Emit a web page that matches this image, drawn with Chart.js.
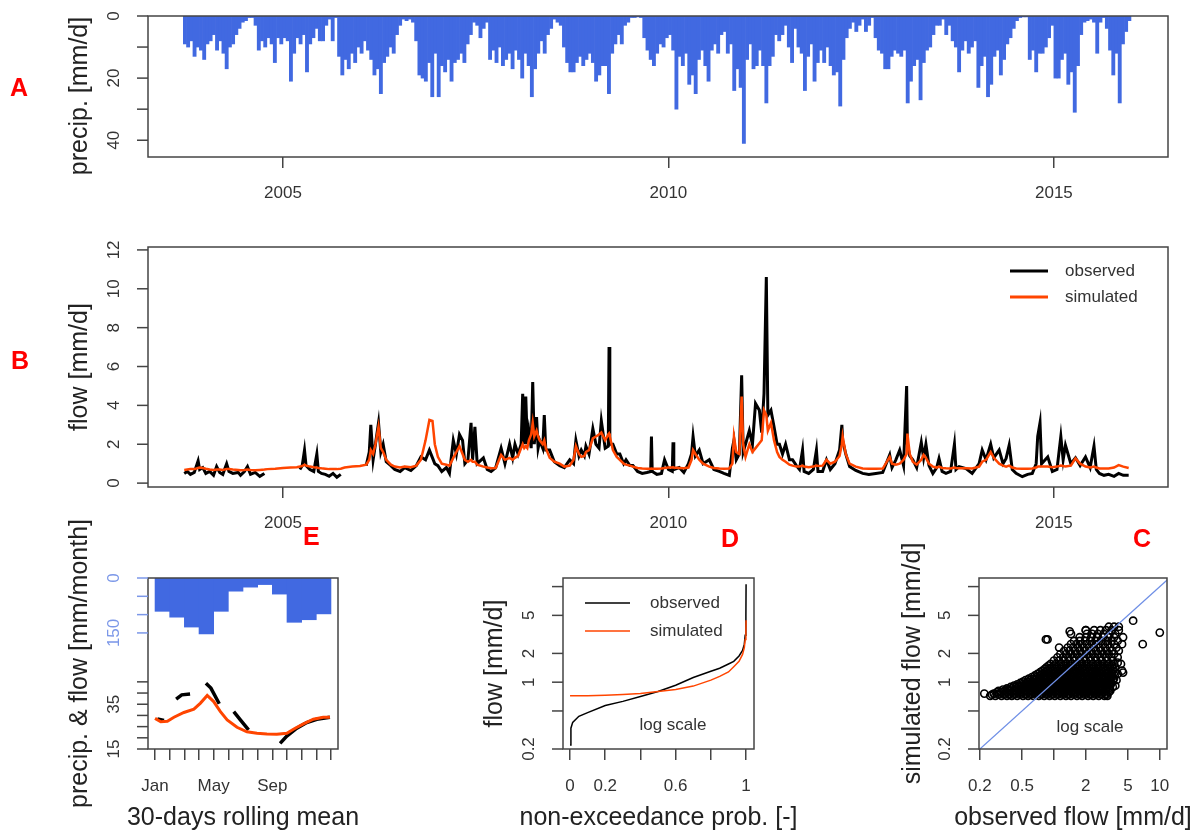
<!DOCTYPE html>
<html>
<head>
<meta charset="utf-8">
<script src="https://cdn.jsdelivr.net/npm/chart.js@4.4.1/dist/chart.umd.min.js"></script>
<style>
  body { margin: 0; background: #fff; }
  #wrap { position: relative; width: 1200px; height: 832px; overflow: hidden; background: #fff; }
  #wrap canvas { position: absolute; }
  .tag { position: absolute; color: #ff0000; font: bold 25px "Liberation Sans", Arial, sans-serif; line-height: 25px; }
</style>
</head>
<body>
<div id="wrap">
  <canvas id="precipChart" width="1200" height="210" style="left:0;top:0"></canvas>
  <canvas id="flowChart" width="1200" height="330" style="left:0;top:210px"></canvas>
  <canvas id="regimeChart" width="380" height="327" style="left:0;top:505px"></canvas>
  <canvas id="fdcChart" width="440" height="327" style="left:380px;top:505px"></canvas>
  <canvas id="scatterChart" width="420" height="327" style="left:780px;top:505px"></canvas>
  <div class="tag" style="left:10px;top:75px">A</div>
  <div class="tag" style="left:11px;top:348px">B</div>
  <div class="tag" style="left:303px;top:524px">E</div>
  <div class="tag" style="left:721px;top:526px">D</div>
  <div class="tag" style="left:1133px;top:526px">C</div>
</div>
<script>
// ---- A: precipitation, half-month blocks from 2nd half of Sep 2003 to Dec 2015 ----
const precipStart = 2003.708;
const precip = [
  9, 10, 8, 13, 10, 11, 14,
  9, 8, 6, 11, 8, 12, 17, 10, 9, 6, 4, 2, 1.5, 0.5, 0.5, 3, 11, 8, 10, 7, 9, 15, 7, 9,
  7, 8, 21, 12, 7, 9, 6, 18, 9, 7, 4, 8, 8, 3, 1, 8, 0.5, 13, 19, 14, 17, 12, 15, 10,
  12, 8, 11, 14, 19, 17, 25, 15, 13, 10, 12, 6, 3, 1, 1.5, 1, 2, 8, 19, 20, 21, 15, 26, 12,
  26, 16, 18, 14, 21, 15, 14, 12, 15, 9, 6, 2, 3, 7, 4, 2, 14, 11, 15, 10, 16, 14, 12, 17,
  11, 14, 20, 12, 16, 26, 17, 12, 8, 12, 6, 4, 1, 2, 3, 10, 15, 18, 18, 15, 13, 16, 14, 12,
  15, 21, 19, 16, 16, 25, 12, 9, 6, 9, 3, 2, 0.5, 0.5, 0.3, 0.5, 7, 11, 14, 16, 12, 9, 10, 7,
  6, 11, 30, 13, 16, 12, 22, 19, 25, 14, 11, 16, 21, 11, 9, 12, 6, 5, 12, 9, 24, 17, 23, 41,
  14, 9, 17, 16, 11, 16, 28, 16, 13, 6, 8, 6, 3, 10, 15, 4, 10, 12, 24, 13, 9, 21, 15, 11,
  15, 10, 16, 19, 18, 29, 14, 7, 4, 2, 5, 3, 1, 5, 3, 0.5, 7, 11, 12, 17, 17, 13, 11, 12,
  13, 11, 28, 21, 16, 14, 27, 15, 11, 10, 6, 3, 3, 1, 6, 3, 8, 10, 18, 11, 8, 12, 10, 8,
  23, 16, 13, 26, 22, 13, 11, 19, 14, 9, 7, 4, 1.5, 0.5, 0.3, 0.3, 14, 11, 18, 12, 12, 10, 7, 3,
  20, 20, 14, 12, 22, 18, 31, 16, 6, 2, 1.5, 1, 2, 12, 2, 0.5, 4, 11, 19, 12, 28, 9, 5, 1.5
];
const yearTicks = [2005, 2010, 2015];

// ---- B: daily flow (selected days) ----
const flowDates = [
  2003.72, 2003.76, 2003.80, 2003.85, 2003.90, 2003.92, 2003.96,
  2004.00, 2004.05, 2004.10, 2004.14, 2004.18, 2004.22, 2004.27, 2004.30, 2004.35, 2004.42, 2004.45, 2004.50, 2004.54, 2004.58, 2004.64, 2004.70, 2004.76, 2004.80, 2004.90,
  2005.00, 2005.10, 2005.18, 2005.22, 2005.25, 2005.28, 2005.30, 2005.35, 2005.40, 2005.44, 2005.46, 2005.50, 2005.55, 2005.60, 2005.65, 2005.70, 2005.75, 2005.80, 2005.90,
  2006.00, 2006.08, 2006.12, 2006.14, 2006.17, 2006.20, 2006.24, 2006.27, 2006.30, 2006.34, 2006.40, 2006.45, 2006.52, 2006.58, 2006.66, 2006.73, 2006.79, 2006.85, 2006.90, 2006.94, 2006.97,
  2007.01, 2007.06, 2007.12, 2007.16, 2007.21, 2007.25, 2007.29, 2007.33, 2007.36, 2007.40, 2007.44, 2007.46, 2007.49, 2007.52, 2007.60, 2007.65, 2007.70, 2007.76, 2007.83, 2007.88, 2007.94, 2007.98,
  2008.01, 2008.05, 2008.09, 2008.11, 2008.13, 2008.15, 2008.17, 2008.19, 2008.22, 2008.24, 2008.26, 2008.29, 2008.31, 2008.33, 2008.37, 2008.39, 2008.41, 2008.46, 2008.52, 2008.59, 2008.65, 2008.72, 2008.77, 2008.80, 2008.84, 2008.87, 2008.91, 2008.93, 2008.97,
  2009.02, 2009.06, 2009.10, 2009.13, 2009.18, 2009.22, 2009.23, 2009.24, 2009.28, 2009.33, 2009.37, 2009.42, 2009.45, 2009.50, 2009.54, 2009.60, 2009.66, 2009.72, 2009.77, 2009.78, 2009.79, 2009.85, 2009.91, 2009.95,
  2010.00, 2010.05, 2010.06, 2010.07, 2010.14, 2010.20, 2010.26, 2010.30, 2010.32, 2010.35, 2010.40, 2010.45, 2010.53, 2010.59, 2010.66, 2010.72, 2010.79, 2010.83, 2010.85, 2010.88, 2010.92, 2010.95, 2010.97,
  2011.00, 2011.05, 2011.09, 2011.13, 2011.18, 2011.21, 2011.24, 2011.27, 2011.29, 2011.33, 2011.37, 2011.41, 2011.44, 2011.48, 2011.52, 2011.57, 2011.61, 2011.66, 2011.70, 2011.74, 2011.76, 2011.82, 2011.88, 2011.92, 2011.94,
  2012.00, 2012.05, 2012.10, 2012.16, 2012.22, 2012.25, 2012.26, 2012.30, 2012.35, 2012.43, 2012.52, 2012.60, 2012.69, 2012.78, 2012.87, 2012.90, 2012.95,
  2013.00, 2013.05, 2013.09, 2013.10, 2013.13, 2013.17, 2013.22, 2013.28, 2013.31, 2013.34, 2013.38, 2013.43, 2013.48, 2013.51, 2013.55, 2013.60, 2013.66, 2013.71, 2013.73, 2013.77, 2013.86, 2013.94,
  2014.03, 2014.07, 2014.12, 2014.18, 2014.22, 2014.29, 2014.34, 2014.38, 2014.42, 2014.46, 2014.51, 2014.59, 2014.66, 2014.72, 2014.77, 2014.79, 2014.82, 2014.84, 2014.92, 2014.98,
  2015.04, 2015.09, 2015.12, 2015.15, 2015.22, 2015.28, 2015.34, 2015.41, 2015.47, 2015.52, 2015.55, 2015.59, 2015.65, 2015.71, 2015.78, 2015.84, 2015.90, 2015.97
];
const observed = [
  0.5, 0.6, 0.45, 0.55, 1.15, 0.7, 0.8,
  0.5, 0.6, 0.4, 0.85, 0.55, 0.45, 1.0, 0.6, 0.5, 0.55, 0.4, 0.6, 0.85, 0.45, 0.55, 0.35, 0.5, null, null,
  null, null, null, 0.7, 0.9, 1.7, 0.9, 0.7, 0.6, 1.5, 0.6, 0.5, 0.45, 0.35, 0.5, 0.3, 0.45, null, null,
  null, 0.9, 1.6, 3.0, 1.2, 2.0, 3.1, 1.6, 2.0, 1.1, 0.9, 0.7, 0.6, 0.8, 0.65, 0.9, 1.35, 1.2, 1.7, 1.3, 1.0,
  0.9, 0.6, 0.8, 0.5, 2.2, 1.5, 2.5, 2.2, 1.0, 1.2, 3.1, 1.2, 2.9, 1.0, 1.3, 0.7, 0.6, 0.8, 1.8, 1.0, 2.0, 1.3,
  2.0, 1.5, 2.0, 4.6, 2.0, 4.45, 2.0, 2.7, 1.8, 5.2, 2.0, 3.4, 1.8, 2.2, 1.8, 3.5, 1.7, 1.7, 1.1, 0.9, 0.8, 1.2, 1.0, 2.2, 1.4, 1.7, 1.4, 1.9, 1.5,
  2.8, 2.0, 1.8, 3.2, 1.8, 1.9, 7.0, 2.0, 2.0, 1.5, 1.5, 1.0, 1.2, 0.9, 0.9, 0.6, 0.5, 0.55, 0.6, 2.4, 0.6, 0.45, 0.5, 1.2,
  0.7, 0.6, 2.1, 0.7, 0.8, 0.55, 1.0, 1.5, 2.4, 1.4, 1.7, 1.0, 1.2, 0.7, 0.6, 0.5, 0.4, 1.8, 2.2, 1.2, 1.5, 5.55, 1.6,
  2.0, 2.7, 2.0, 4.1, 3.75, 2.6, 4.6, 10.6, 3.5, 3.75, 2.9, 2.0, 2.0, 1.5, 2.0, 1.2, 1.2, 0.9, 0.7, 1.7, 0.6, 0.5, 0.7, 1.7, 0.6,
  0.6, 1.2, 0.7, 1.0, 1.7, 3.0, 2.2, 1.5, 0.85, 0.65, 0.5, 0.45, 0.5, 0.55, 1.45, 0.8, 1.2,
  1.7, 0.9, 5.0, 2.0, 1.4, 1.2, 0.8, 2.1, 1.3, 2.0, 0.9, 0.5, 0.8, 1.27, 0.6, 0.5, 0.6, 2.0, 0.7, 0.85, 0.75, 0.5,
  1.0, 1.7, 1.2, 2.0, 1.3, 1.7, 1.0, 1.27, 1.95, 0.7, 0.5, 0.33, 0.45, 0.5, 1.0, 2.4, 3.1, 1.0, 1.35, 0.6,
  0.7, 2.4, 1.2, 1.95, 1.0, 1.3, 0.9, 1.35, 0.8, 1.9, 0.7, 0.5, 0.4, 0.45, 0.35, 0.5, 0.4, 0.4
];
const simulated = [
  0.68, 0.70, 0.72, 0.72, 0.78, 0.80, 0.78,
  0.74, 0.70, 0.68, 0.70, 0.70, 0.68, 0.72, 0.72, 0.70, 0.68, 0.66, 0.68, 0.70, 0.68, 0.66, 0.68, 0.70, 0.72, 0.74,
  0.78, 0.80, 0.82, 0.85, 0.88, 0.95, 0.90, 0.85, 0.82, 0.80, 0.78, 0.76, 0.74, 0.72, 0.72, 0.72, 0.74, 0.80, 0.85,
  0.88, 0.95, 1.2, 1.7, 1.5, 2.0, 2.9, 1.8, 1.6, 1.2, 0.95, 0.85, 0.8, 0.85, 0.82, 0.9, 1.2, 2.2, 3.25, 3.2, 2.0,
  1.35, 1.0, 0.95, 0.9, 1.3, 1.6, 1.9, 1.5, 1.2, 1.1, 1.2, 1.1, 1.1, 0.95, 0.85, 0.8, 0.76, 0.78, 1.45, 1.2, 1.3, 1.2,
  1.3, 1.4, 1.8, 2.0, 1.8, 1.9, 1.8, 2.2, 2.5, 3.1, 2.4, 2.7, 2.4, 2.2, 2.0, 2.2, 1.8, 1.3, 1.1, 1.0, 0.85, 0.9, 1.2, 1.9, 1.5, 1.35, 1.4, 1.6, 1.7,
  2.3, 2.4, 2.5, 2.6, 2.2, 2.5, 2.55, 2.4, 1.7, 1.35, 1.2, 1.0, 0.95, 0.9, 0.85, 0.78, 0.75, 0.74, 0.74, 0.75, 0.74, 0.74, 0.75, 0.78,
  0.8, 0.8, 0.82, 0.8, 0.78, 0.76, 0.8, 1.2, 1.7, 1.5, 1.2, 1.0, 0.85, 0.78, 0.75, 0.74, 0.75, 1.0, 2.4, 1.6, 1.5, 4.45, 2.0,
  1.35, 2.0, 1.6, 1.8, 2.05, 2.2, 3.75, 3.5, 2.7, 3.1, 2.2, 1.6, 1.35, 1.2, 1.1, 0.95, 0.9, 0.85, 0.85, 0.9, 0.85, 0.82, 0.85, 0.9, 0.88,
  0.9, 1.2, 1.0, 1.1, 1.4, 2.0, 2.4, 1.5, 1.0, 0.85, 0.75, 0.74, 0.74, 0.75, 1.35, 1.0, 0.95,
  1.0, 1.2, 1.5, 2.55, 1.5, 1.1, 0.95, 1.2, 1.45, 1.3, 1.0, 0.85, 0.8, 0.85, 0.78, 0.76, 0.75, 0.8, 0.78, 0.76, 0.76, 0.75,
  0.85, 1.1, 1.2, 1.6, 1.3, 1.0, 0.9, 0.85, 0.9, 0.8, 0.75, 0.74, 0.74, 0.75, 0.8, 0.85, 0.85, 0.85, 0.85, 0.82,
  0.85, 0.9, 0.88, 0.85, 0.9, 1.27, 1.0, 0.85, 0.8, 0.85, 0.8, 0.75, 0.75, 0.75, 0.8, 0.93, 0.85, 0.78
];
const seriesNames = ['observed', 'simulated'];
const seriesColors = ['#000000', '#ff4500'];

// ---- E: regime (30-day rolling mean), x = months since 1 Jan ----
const monthTicks = [0, 1, 2, 3, 4, 5, 6, 7, 8, 9, 10, 11, 12];
const monthLabels = ['Jan', '', '', '', 'May', '', '', '', 'Sep', '', '', '', ''];
const monthlyPrecip = [91, 107, 134, 153, 91, 36, 25, 18, 44, 121, 114, 98];
const regimeSimX = [0.0, 0.39, 0.84, 1.29, 1.97, 2.65, 3.1, 3.56, 4.0, 4.46, 4.92, 5.59, 6.27, 6.95, 7.63, 8.31, 8.99, 9.44, 10.12, 10.8, 11.47, 11.93];
const regimeSim = [28.7, 27.2, 27.4, 29.2, 31.3, 32.8, 35.5, 38.9, 36.2, 31.7, 28.0, 24.7, 22.7, 22.0, 21.7, 21.6, 22.0, 23.8, 26.2, 28.3, 29.2, 29.2];
const regimeObsX = [0.16, 0.61, 1.0, 1.44, 1.82, 2.39, 2.9, 3.47, 3.81, 4.38, 4.9, 5.37, 5.82, 6.38, 7.5, 8.53, 8.99, 9.67, 10.35, 11.03, 11.93];
const regimeObs = [28.4, 27.7, null, 37.3, 39.2, 39.6, null, 44.4, 42.2, 35.2, null, 31.7, 28.0, 23.5, null, 17.5, 20.8, 24.3, 26.8, 28.3, 29.2];

// ---- D: flow duration curve ----
const fdcProb = [0, 0.005, 0.015, 0.05, 0.1, 0.2, 0.3, 0.4, 0.5, 0.6, 0.7, 0.8, 0.85, 0.9, 0.93, 0.96, 0.98, 0.99, 0.995, 0.999, 1.0];
const fdcObs = [0.22, 0.33, 0.38, 0.44, 0.48, 0.57, 0.63, 0.71, 0.80, 0.93, 1.12, 1.30, 1.40, 1.55, 1.65, 1.88, 2.15, 2.5, 3.1, 4.9, 10.6];
const fdcSim = [0.72, 0.72, 0.72, 0.72, 0.72, 0.73, 0.745, 0.76, 0.80, 0.84, 0.91, 1.05, 1.15, 1.28, 1.45, 1.65, 1.95, 2.3, 2.8, 3.6, 4.45];

// ---- C: simulated vs observed, one row of observed values per simulated level ----
const scatterSimRows = [0.72, 0.74, 0.76, 0.785, 0.81, 0.835, 0.86, 0.89, 0.92, 0.95, 0.98, 1.015, 1.05, 1.09, 1.13, 1.175, 1.22, 1.27, 1.32, 1.375, 1.43, 1.49, 1.55, 1.68, 1.82, 1.97, 2.13, 2.3, 2.5, 2.7, 2.95, 3.2, 3.5, 3.8];
const scatterObsRows = [
  [0.25, 0.28, 0.32, 0.36, 0.40, 0.45, 0.51, 0.57, 0.64, 0.72, 0.81, 0.91, 1.02, 1.15, 1.3, 1.45, 1.65, 1.85, 2.1, 2.35, 2.65, 3.0, 3.2],
  [0.26, 0.30, 0.34, 0.38, 0.42, 0.48, 0.54, 0.60, 0.68, 0.76, 0.86, 0.96, 1.08, 1.22, 1.37, 1.55, 1.75, 1.97, 2.22, 2.5, 2.82, 3.15],
  [0.22, 0.27, 0.30, 0.34, 0.38, 0.43, 0.48, 0.54, 0.61, 0.68, 0.77, 0.86, 0.97, 1.09, 1.22, 1.38, 1.55, 1.75, 1.97, 2.2, 2.5, 2.8, 3.1],
  [0.29, 0.32, 0.36, 0.40, 0.45, 0.51, 0.57, 0.64, 0.72, 0.81, 0.91, 1.02, 1.15, 1.29, 1.45, 1.63, 1.83, 2.06, 2.32, 2.62, 2.95, 3.3],
  [0.30, 0.34, 0.38, 0.42, 0.47, 0.53, 0.60, 0.67, 0.75, 0.84, 0.95, 1.07, 1.2, 1.35, 1.52, 1.7, 1.92, 2.15, 2.42, 2.75, 3.1, 3.4],
  [0.33, 0.37, 0.42, 0.47, 0.53, 0.59, 0.66, 0.74, 0.83, 0.93, 1.05, 1.18, 1.32, 1.48, 1.66, 1.86, 2.1, 2.36, 2.65, 3.0, 3.35],
  [0.36, 0.40, 0.45, 0.50, 0.56, 0.63, 0.71, 0.80, 0.90, 1.01, 1.13, 1.27, 1.43, 1.6, 1.8, 2.03, 2.3, 2.6, 2.9, 3.3],
  [0.39, 0.44, 0.49, 0.55, 0.62, 0.70, 0.78, 0.88, 0.99, 1.11, 1.25, 1.4, 1.57, 1.77, 1.99, 2.24, 2.52, 2.84, 3.2, 3.6],
  [0.42, 0.47, 0.53, 0.59, 0.66, 0.74, 0.83, 0.93, 1.05, 1.18, 1.32, 1.48, 1.67, 1.88, 2.1, 2.38, 2.68, 3.0, 3.4, 3.8],
  [0.45, 0.50, 0.57, 0.64, 0.72, 0.81, 0.91, 1.02, 1.15, 1.29, 1.45, 1.63, 1.83, 2.06, 2.32, 2.6, 2.92, 3.3],
  [0.48, 0.54, 0.61, 0.68, 0.77, 0.86, 0.97, 1.09, 1.22, 1.37, 1.54, 1.73, 1.95, 2.2, 2.45, 2.75, 3.1, 3.5],
  [0.51, 0.57, 0.64, 0.72, 0.81, 0.91, 1.02, 1.15, 1.29, 1.45, 1.62, 1.82, 2.05, 2.3, 2.58, 2.9, 3.25],
  [0.54, 0.60, 0.67, 0.75, 0.85, 0.95, 1.07, 1.2, 1.35, 1.52, 1.7, 1.92, 2.15, 2.42, 2.7, 3.05, 3.4, 3.9],
  [0.58, 0.65, 0.73, 0.82, 0.92, 1.03, 1.16, 1.3, 1.46, 1.64, 1.84, 2.07, 2.32, 2.6, 2.92, 3.3, 3.7],
  [0.62, 0.69, 0.78, 0.87, 0.98, 1.1, 1.23, 1.38, 1.55, 1.75, 1.96, 2.2, 2.47, 2.78, 3.1, 3.5],
  [0.66, 0.74, 0.83, 0.93, 1.05, 1.18, 1.32, 1.48, 1.66, 1.86, 2.09, 2.35, 2.64, 2.96, 3.32, 3.75],
  [0.70, 0.78, 0.88, 0.99, 1.11, 1.25, 1.4, 1.57, 1.77, 1.98, 2.22, 2.5, 2.8, 3.15, 3.55, 4.0],
  [0.74, 0.83, 0.93, 1.04, 1.17, 1.31, 1.47, 1.65, 1.86, 2.09, 2.34, 2.63, 2.95, 3.32, 3.75],
  [0.78, 0.87, 0.98, 1.1, 1.23, 1.38, 1.55, 1.74, 1.95, 2.2, 2.46, 2.76, 3.1, 3.5, 4.4],
  [0.82, 0.92, 1.03, 1.15, 1.29, 1.45, 1.63, 1.83, 2.05, 2.3, 2.58, 2.9, 3.25, 3.65],
  [0.85, 0.95, 1.07, 1.2, 1.35, 1.51, 1.7, 1.9, 2.14, 2.4, 2.7, 3.0, 3.4, 3.8],
  [0.89, 1.0, 1.12, 1.25, 1.41, 1.58, 1.77, 1.99, 2.23, 2.5, 2.8, 3.15, 3.55],
  [0.93, 1.04, 1.17, 1.31, 1.47, 1.65, 1.85, 2.08, 2.33, 2.62, 2.95, 3.3, 3.7, 4.3],
  [1.0, 1.12, 1.26, 1.41, 1.58, 1.78, 2.0, 2.24, 2.52, 2.83, 3.2, 3.6],
  [1.08, 1.22, 1.37, 1.54, 1.73, 1.94, 2.18, 2.45, 2.75, 3.1, 3.5, 4.0],
  [1.15, 1.3, 1.46, 1.64, 1.84, 2.07, 2.32, 2.6, 2.95, 3.3, 3.7],
  [1.25, 1.4, 1.58, 1.77, 1.99, 2.24, 2.5, 2.8, 3.15, 3.55, 4.1],
  [1.12, 1.35, 1.52, 1.7, 1.91, 2.15, 2.4, 2.7, 3.05, 3.4, 3.9],
  [1.45, 1.63, 1.83, 2.05, 2.3, 2.6, 2.9, 3.25, 3.7, 4.4],
  [1.55, 1.75, 1.97, 2.2, 2.47, 2.78, 3.1, 3.5, 4.0],
  [1.75, 2.0, 2.25, 2.55, 2.9, 3.25, 3.7, 4.5],
  [1.45, 2.05, 2.3, 2.6, 2.95, 3.35, 3.8],
  [2.0, 2.4, 2.75, 3.1, 3.5, 4.1],
  [3.3, 3.7, 4.1]
];
const scatterExtraObs = [0.84, 0.87, 1.41, 2.0, 4.5, 5.6, 6.9, 10.0, 4.0, 3.6];
const scatterExtraSim = [2.8, 2.8, 3.4, 3.5, 1.26, 4.4, 2.5, 3.3, 1.6, 1.05];
const oneToOne = [0.2, 12];
const logTicks = [0.2, 0.5, 1, 2, 5, 10];

// ------------------------------------------------------------------
const FONT = '"Liberation Sans", Arial, Helvetica, sans-serif';
Chart.defaults.font.family = FONT;
Chart.defaults.font.size = 17;
Chart.defaults.color = '#333';
Chart.defaults.animation = false;
Chart.defaults.responsive = false;
Chart.defaults.plugins.legend.display = false;
Chart.defaults.plugins.tooltip.enabled = false;

// box, rotated y ticks, axis titles, legend and notes drawn the way R does them
const rFrame = {
  id: 'rFrame',
  afterDatasetsDraw(chart, args, o) {
    const ctx = chart.ctx;
    const a = chart.chartArea;
    ctx.save();
    ctx.lineWidth = 1.5;
    ctx.strokeStyle = '#444';
    ctx.strokeRect(a.left, a.top, a.right - a.left, a.bottom - a.top);

    ctx.textAlign = 'center';
    ctx.textBaseline = 'middle';
    (o.yAxes || []).forEach(ax => {
      const scale = chart.scales[ax.id];
      ctx.strokeStyle = ax.color || '#444';
      ctx.fillStyle = ax.color || '#333';
      ctx.lineWidth = 1.5;
      ax.ticks.forEach(v => {
        const y = scale.getPixelForValue(v);
        ctx.beginPath();
        ctx.moveTo(a.left - 11, y);
        ctx.lineTo(a.left, y);
        ctx.stroke();
      });
      ctx.font = '17px ' + FONT;
      ax.labels.forEach(v => {
        ctx.save();
        ctx.translate(a.left - 34, scale.getPixelForValue(v));
        ctx.rotate(-Math.PI / 2);
        ctx.fillText(String(v), 0, 0);
        ctx.restore();
      });
    });

    ctx.fillStyle = '#222';
    ctx.font = '25px ' + FONT;
    if (o.yTitle) {
      ctx.save();
      ctx.translate(o.yTitle.x, o.yTitle.y != null ? o.yTitle.y : (a.top + a.bottom) / 2);
      ctx.rotate(-Math.PI / 2);
      ctx.fillText(o.yTitle.text, 0, 0);
      ctx.restore();
    }
    if (o.xTitle) {
      ctx.fillText(o.xTitle.text, (a.left + a.right) / 2, o.xTitle.y);
    }

    if (o.legend) {
      const L = o.legend;
      ctx.font = '17px ' + FONT;
      ctx.textAlign = 'left';
      seriesNames.forEach((name, i) => {
        const y = L.y + i * L.dy;
        ctx.strokeStyle = seriesColors[i];
        ctx.lineWidth = L.lineWidth;
        ctx.beginPath();
        ctx.moveTo(L.x, y);
        ctx.lineTo(L.x + L.len, y);
        ctx.stroke();
        ctx.fillStyle = '#333';
        ctx.fillText(name, L.textX, y);
      });
    }

    (o.notes || []).forEach(n => {
      ctx.font = '17px ' + FONT;
      ctx.textAlign = 'center';
      ctx.fillStyle = '#333';
      ctx.fillText(n.text, n.x, n.y);
    });
    ctx.restore();
  }
};

function rX(cfg) {
  return {
    type: cfg.type || 'linear',
    min: cfg.min,
    max: cfg.max,
    offset: false,
    border: { display: false },
    grid: { drawOnChartArea: false, drawTicks: true, tickLength: 11, color: '#444', lineWidth: 1.5, offset: false },
    ticks: {
      autoSkip: false, maxRotation: 0, minRotation: 0, padding: cfg.pad, color: '#333',
      callback: (v, i) => cfg.labels[i]
    },
    afterBuildTicks: s => { s.ticks = cfg.ticks.map(v => ({ value: v })); },
    afterFit: s => { s.height = cfg.height; }
  };
}

const xy = (xs, ys) => xs.map((x, i) => ({ x: x, y: ys[i] }));

// A
new Chart(document.getElementById('precipChart'), {
  type: 'bar',
  data: {
    datasets: [{
      data: precip.map((v, i) => ({ x: precipStart + (i + 0.5) / 24, y: v })),
      backgroundColor: '#4169e1',
      borderWidth: 0,
      barPercentage: 1,
      categoryPercentage: 1
    }]
  },
  options: {
    layout: { padding: { left: 148, right: 32, top: 16, bottom: 0 } },
    scales: {
      x: rX({ min: 2003.25, max: 2016.48, ticks: yearTicks, labels: yearTicks.map(String), height: 53, pad: 15 }),
      y: { type: 'linear', min: 0, max: 45.4, reverse: true, display: false }
    },
    plugins: {
      rFrame: {
        yAxes: [{ id: 'y', ticks: [0, 10, 20, 30, 40], labels: [0, 20, 40] }],
        yTitle: { text: 'precip. [mm/d]', x: 80, y: 96 }
      }
    }
  },
  plugins: [rFrame]
});

// B
new Chart(document.getElementById('flowChart'), {
  type: 'line',
  data: {
    datasets: [
      { label: seriesNames[1], data: xy(flowDates, simulated), borderColor: seriesColors[1], borderWidth: 2.5, pointRadius: 0, order: 0 },
      { label: seriesNames[0], data: xy(flowDates, observed), borderColor: seriesColors[0], borderWidth: 3, pointRadius: 0, order: 1 }
    ]
  },
  options: {
    layout: { padding: { left: 148, right: 32, top: 37, bottom: 0 } },
    elements: { line: { tension: 0 } },
    spanGaps: false,
    scales: {
      x: rX({ min: 2003.25, max: 2016.48, ticks: yearTicks, labels: yearTicks.map(String), height: 53, pad: 15 }),
      y: { type: 'linear', min: -0.2, max: 12.15, display: false }
    },
    plugins: {
      rFrame: {
        yAxes: [{ id: 'y', ticks: [0, 2, 4, 6, 8, 10, 12], labels: [0, 2, 4, 6, 8, 10, 12] }],
        yTitle: { text: 'flow [mm/d]', x: 80 },
        legend: { x: 1010, len: 38, textX: 1065, y: 61, dy: 26, lineWidth: 3 }
      }
    }
  },
  plugins: [rFrame]
});

// E
new Chart(document.getElementById('regimeChart'), {
  type: 'line',
  data: {
    datasets: [
      { data: xy(regimeSimX, regimeSim), borderColor: seriesColors[1], borderWidth: 3, pointRadius: 0, yAxisID: 'y', order: 0 },
      { data: xy(regimeObsX, regimeObs), borderColor: seriesColors[0], borderWidth: 3.5, pointRadius: 0, yAxisID: 'y', order: 1 },
      {
        type: 'bar',
        data: monthlyPrecip.map((v, i) => ({ x: i + 0.5, y: v })),
        backgroundColor: '#4169e1', borderWidth: 0, barPercentage: 1, categoryPercentage: 1,
        yAxisID: 'yP', order: 2
      }
    ]
  },
  options: {
    layout: { padding: { left: 148, right: 42, top: 73, bottom: 0 } },
    elements: { line: { tension: 0 } },
    spanGaps: false,
    scales: {
      x: rX({ min: -0.48, max: 12.48, ticks: monthTicks, labels: monthLabels, height: 83, pad: 16 }),
      y: { type: 'linear', min: 15, max: 91.4, display: false },
      yP: { type: 'linear', min: 0, max: 467, reverse: true, display: false }
    },
    plugins: {
      rFrame: {
        yAxes: [
          { id: 'yP', ticks: [0, 50, 100, 150], labels: [0, 150], color: '#7b97e8' },
          { id: 'y', ticks: [15, 20, 25, 30, 35, 40, 45], labels: [15, 35] }
        ],
        yTitle: { text: 'precip. & flow [mm/month]', x: 80 },
        xTitle: { text: '30-days rolling mean', y: 313 }
      }
    }
  },
  plugins: [rFrame]
});

// D
new Chart(document.getElementById('fdcChart'), {
  type: 'line',
  data: {
    datasets: [
      { data: xy(fdcProb, fdcSim), borderColor: seriesColors[1], borderWidth: 1.5, pointRadius: 0, order: 0 },
      { data: xy(fdcProb, fdcObs), borderColor: seriesColors[0], borderWidth: 1.5, pointRadius: 0, order: 1 }
    ]
  },
  options: {
    layout: { padding: { left: 183, right: 66, top: 73, bottom: 0 } },
    elements: { line: { tension: 0 } },
    scales: {
      x: rX({ min: -0.04, max: 1.045, ticks: [0, 0.2, 0.4, 0.6, 0.8, 1], labels: ['0', '0.2', '', '0.6', '', '1'], height: 83, pad: 16 }),
      y: { type: 'logarithmic', min: 0.2, max: 12.3, display: false }
    },
    plugins: {
      rFrame: {
        yAxes: [{ id: 'y', ticks: logTicks, labels: [0.2, 1, 2, 5] }],
        yTitle: { text: 'flow [mm/d]', x: 115 },
        xTitle: { text: 'non-exceedance prob. [-]', y: 313 },
        legend: { x: 205, len: 45, textX: 270, y: 98, dy: 28, lineWidth: 1.5 },
        notes: [{ text: 'log scale', x: 293, y: 220 }]
      }
    }
  },
  plugins: [rFrame]
});

// C
const scatterPoints = [];
scatterSimRows.forEach((s, r) => scatterObsRows[r].forEach(o => scatterPoints.push({ x: o, y: s })));
scatterExtraObs.forEach((o, i) => scatterPoints.push({ x: o, y: scatterExtraSim[i] }));

new Chart(document.getElementById('scatterChart'), {
  type: 'scatter',
  data: {
    datasets: [
      { type: 'line', data: xy(oneToOne, oneToOne), borderColor: '#6f8fe6', borderWidth: 1.2, pointRadius: 0, order: 0 },
      {
        data: scatterPoints, pointStyle: 'circle', pointRadius: 3.6, borderColor: '#000',
        backgroundColor: 'rgba(0,0,0,0)', borderWidth: 1.6, order: 1
      }
    ]
  },
  options: {
    layout: { padding: { left: 199, right: 33, top: 73, bottom: 0 } },
    scales: {
      x: rX({ type: 'logarithmic', min: 0.196, max: 11.7, ticks: logTicks, labels: ['0.2', '0.5', '', '2', '5', '10'], height: 83, pad: 16 }),
      y: { type: 'logarithmic', min: 0.2, max: 12.3, display: false }
    },
    plugins: {
      rFrame: {
        yAxes: [{ id: 'y', ticks: logTicks, labels: [0.2, 1, 2, 5] }],
        yTitle: { text: 'simulated flow [mm/d]', x: 133 },
        xTitle: { text: 'observed flow [mm/d]', y: 313 },
        notes: [{ text: 'log scale', x: 310, y: 222 }]
      }
    }
  },
  plugins: [rFrame]
});
</script>
</body>
</html>
